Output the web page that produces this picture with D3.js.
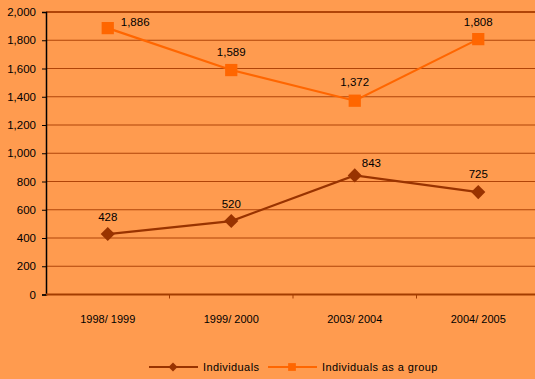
<!DOCTYPE html>
<html><head><meta charset="utf-8">
<script src="https://cdn.jsdelivr.net/npm/d3@7"></script>
<style>body{margin:0;background:#FF9B4F;}svg{display:block;font-family:"Liberation Sans",Arial,sans-serif;}</style>
</head><body>
<svg id="c" width="535" height="379"></svg>
<script>
const categories = ["1998/ 1999","1999/ 2000","2003/ 2004","2004/ 2005"];
const individuals = [428,520,843,725];
const group = [1886,1589,1372,1808];
const yTicks = [0,200,400,600,800,1000,1200,1400,1600,1800,2000];

const svg = d3.select("#c");
svg.append("rect").attr("width",535).attr("height",379).attr("fill","#FF9B4F");
const L=46, T=12, B=294.5, R=540;
const x = d3.scaleBand().domain(categories).range([L,R]);
const y = d3.scaleLinear().domain([0,2000]).range([B,T]);
const fmt = d3.format(",");

// gridlines
svg.append("g").selectAll("line").data(yTicks.filter(d=>d>0)).join("line")
  .attr("x1",L).attr("x2",535).attr("y1",d=>y(d)).attr("y2",d=>y(d))
  .attr("stroke","#B04408").attr("stroke-width",d=>d===2000?2:1.2);

// y axis
const ya = svg.append("g").attr("transform",`translate(${L},0)`)
  .call(d3.axisLeft(y).tickValues(yTicks).tickFormat(fmt).tickSize(4).tickPadding(6));
ya.select(".domain").attr("stroke","#000").attr("stroke-width",1.5);
ya.selectAll(".tick line").attr("stroke","#000");
ya.selectAll("text").attr("font-size",11.5).attr("fill","#000").attr("font-family","Liberation Sans, Arial, sans-serif");

// x axis
const xa = svg.append("g").attr("transform",`translate(0,${B})`)
  .call(d3.axisBottom(x).tickSize(0).tickPadding(21));
xa.select(".domain").remove();
svg.append("line").attr("x1",L).attr("x2",535).attr("y1",B).attr("y2",B).attr("stroke","#A33C00").attr("stroke-width",2);
svg.append("g").selectAll("line").data(categories.slice(1)).join("line")
  .attr("x1",d=>x(d)).attr("x2",d=>x(d)).attr("y1",B).attr("y2",B+4).attr("stroke","#A33C00");
xa.selectAll("text").attr("font-size",11).attr("fill","#000").attr("font-family","Liberation Sans, Arial, sans-serif");

const cx = d=>x(d)+x.bandwidth()/2;
const line = d3.line();

function series(vals, color, shape, labelPos){
  const pts = categories.map((c,i)=>[cx(c), y(vals[i])]);
  svg.append("path").attr("d",line(pts)).attr("fill","none").attr("stroke",color).attr("stroke-width",2.2);
  const diamond = shape==="diamond";
  const sym = d3.symbol().type(d3.symbolSquare).size(diamond?100:150);
  svg.append("g").selectAll("path").data(pts).join("path")
    .attr("transform",d=>`translate(${d[0]},${d[1]})`+(diamond?" rotate(45)":"")).attr("d",sym()).attr("fill",color);
  svg.append("g").selectAll("text").data(pts).join("text")
    .attr("x",(d,i)=>d[0]+labelPos[i][0]).attr("y",(d,i)=>d[1]+labelPos[i][1])
    .attr("text-anchor",(d,i)=>labelPos[i][2]||"middle")
    .attr("font-size",11.5).attr("fill","#000")
    .text((d,i)=>fmt(vals[i]));
}
series(individuals,"#993300","diamond",[[0,-13],[0,-13],[7,-8,"start"],[0,-14]]);
series(group,"#FF6600","square",[[13,-2,"start"],[0,-14],[0,-15],[0,-13]]);

// legend
const lg = svg.append("g");
const items = [["Individuals","#993300","diamond",149],["Individuals as a group","#FF6600","square",268]];
items.forEach(([t,c,s,x0])=>{
  lg.append("line").attr("x1",x0).attr("x2",x0+49).attr("y1",367).attr("y2",367).attr("stroke",c).attr("stroke-width",2);
  lg.append("path").attr("transform",`translate(${x0+24},367)`+(s==="diamond"?" rotate(45)":"")).attr("d",d3.symbol().type(d3.symbolSquare).size(s==="diamond"?40:60)()).attr("fill",c);
  lg.append("text").attr("x",x0+54).attr("y",371).attr("font-size",11).attr("letter-spacing",0.4).attr("fill","#000").text(t);
});
</script>
</body></html>
